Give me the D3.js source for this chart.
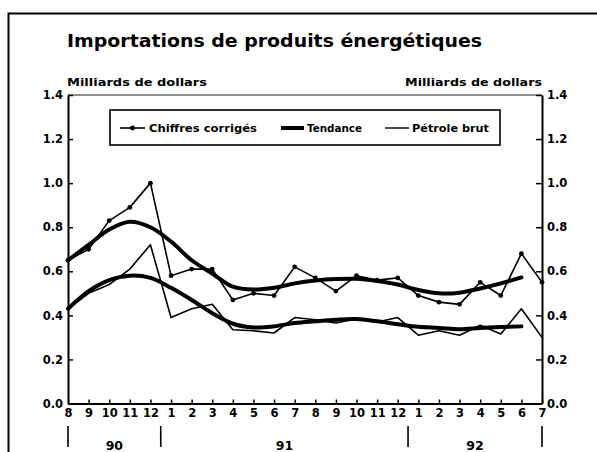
<!DOCTYPE html>
<html>
<head>
<meta charset="utf-8">
<script src="https://cdn.jsdelivr.net/npm/d3@7"></script>
<style>
  body { margin: 0; background: #fff; }
  svg { display: block; font-family: "DejaVu Sans", "Liberation Sans", Arial, sans-serif; font-weight: bold; }
</style>
</head>
<body>
<svg></svg>
<script>
// months Aug 1990 -> Jul 1992
let months = ['8','9','10','11','12','1','2','3','4','5','6','7','8','9','10','11','12','1','2','3','4','5','6','7']
let yearLabels = ['90','91','92']
let yearBreaks = [0, 4.5, 16.5, 23]   // month index where each year starts/ends
let yTicks = [0, 0.2, 0.4, 0.6, 0.8, 1.0, 1.2, 1.4]

let seriesNames = ['Chiffres corrigés', 'Tendance', 'Pétrole brut']

let chiffres = [0.65,0.70,0.83,0.89,1.00,0.58,0.61,0.61,0.47,0.50,0.49,0.62,0.57,0.51,0.58,0.56,0.57,0.49,0.46,0.45,0.55,0.49,0.68,0.55]
let tendance1 = [0.65,0.72,0.79,0.825,0.80,0.735,0.65,0.59,0.53,0.517,0.525,0.545,0.558,0.565,0.566,0.556,0.54,0.515,0.50,0.503,0.522,0.545,0.572]
let petrole = [0.43,0.50,0.54,0.61,0.72,0.39,0.43,0.45,0.335,0.33,0.32,0.39,0.38,0.365,0.385,0.37,0.39,0.31,0.33,0.31,0.355,0.315,0.43,0.30]
let tendance2 = [0.43,0.51,0.56,0.58,0.57,0.525,0.47,0.41,0.362,0.345,0.35,0.365,0.373,0.38,0.383,0.373,0.36,0.348,0.343,0.337,0.343,0.347,0.35]

let width = 597
let height = 452
let padLeft = 68, padRight = 542, padTop = 95, padBottom = 403.5

let svg = d3.select('svg').attr('width', width).attr('height', height)

let xScale = d3.scaleLinear().domain([0, months.length - 1]).range([padLeft, padRight])
let yScale = d3.scaleLinear().domain([0, 1.4]).range([padBottom, padTop])

// outer frame (left + top only, cropped elsewhere)
svg.append('path')
   .attr('d', 'M8.5,452V13.5H597')
   .attr('fill', 'none').attr('stroke', '#000').attr('stroke-width', 2)

// title and units
svg.append('text').text('Importations de produits énergétiques')
   .attr('x', 67).attr('y', 47).attr('font-size', 18)
   .attr('textLength', 415).attr('lengthAdjust', 'spacingAndGlyphs')
svg.append('text').text('Milliards de dollars')
   .attr('x', 67).attr('y', 86).attr('font-size', 11)
   .attr('textLength', 140).attr('lengthAdjust', 'spacingAndGlyphs')
svg.append('text').text('Milliards de dollars')
   .attr('x', 542).attr('y', 86).attr('font-size', 11).attr('text-anchor', 'end')
   .attr('textLength', 137).attr('lengthAdjust', 'spacingAndGlyphs')

// top border of plot
svg.append('line')
   .attr('x1', padLeft).attr('x2', padRight).attr('y1', padTop).attr('y2', padTop)
   .attr('stroke', '#222').attr('stroke-width', 1)

let fmt = d3.format('.1f')

let yLeft = d3.axisLeft(yScale).tickValues(yTicks).tickFormat(fmt)
              .tickSizeInner(-5).tickSizeOuter(0).tickPadding(5)
let yRight = d3.axisRight(yScale).tickValues(yTicks).tickFormat(fmt)
               .tickSizeInner(-6).tickSizeOuter(0).tickPadding(5)
let xAxis = d3.axisBottom(xScale).tickValues(d3.range(months.length))
              .tickFormat((d) => months[d])
              .tickSizeInner(-4).tickSizeOuter(0).tickPadding(5)

let styleAxis = (g) => {
  g.attr('font-family', null).attr('font-size', 11.5)
  g.select('.domain').attr('stroke-width', 2)
  g.selectAll('.tick line').attr('stroke-width', 1.5)
  g.selectAll('.tick text').attr('fill', '#000')
}

svg.append('g').attr('id', 'y-left')
   .attr('transform', 'translate(' + padLeft + ',0)')
   .call(yLeft).call(styleAxis)
svg.append('g').attr('id', 'y-right')
   .attr('transform', 'translate(' + padRight + ',0)')
   .call(yRight).call(styleAxis)
svg.append('g').attr('id', 'x-axis')
   .attr('transform', 'translate(0,' + padBottom + ')')
   .call(xAxis).call(styleAxis)

// year separators and labels
svg.selectAll('.year-sep')
   .data(yearBreaks)
   .enter()
   .append('line')
   .attr('class', 'year-sep')
   .attr('x1', (d) => xScale(d)).attr('x2', (d) => xScale(d))
   .attr('y1', 426).attr('y2', 447)
   .attr('stroke', '#000').attr('stroke-width', 1.6)

svg.selectAll('.year-label')
   .data(yearLabels)
   .enter()
   .append('text')
   .attr('class', 'year-label')
   .attr('x', (d, i) => (xScale(yearBreaks[i]) + xScale(yearBreaks[i + 1])) / 2)
   .attr('y', 450)
   .attr('font-size', 12.5)
   .attr('text-anchor', 'middle')
   .text((d) => d)

// lines
let thin = d3.line().x((d, i) => xScale(i)).y((d) => yScale(d))
let smooth = d3.line().x((d, i) => xScale(i)).y((d) => yScale(d)).curve(d3.curveCatmullRom)

svg.append('path').datum(petrole)
   .attr('d', thin).attr('fill', 'none').attr('stroke', '#000')
   .attr('stroke-width', 1.6).attr('stroke-linejoin', 'round')
svg.append('path').datum(chiffres)
   .attr('d', thin).attr('fill', 'none').attr('stroke', '#000')
   .attr('stroke-width', 1.6).attr('stroke-linejoin', 'round')
svg.selectAll('.dot')
   .data(chiffres)
   .enter()
   .append('circle')
   .attr('class', 'dot')
   .attr('cx', (d, i) => xScale(i)).attr('cy', (d) => yScale(d))
   .attr('r', 2.4).attr('fill', '#000')

;[tendance1, tendance2].forEach((s) => {
  svg.append('path').datum(s)
     .attr('d', smooth).attr('fill', 'none').attr('stroke', '#000')
     .attr('stroke-width', 4).attr('stroke-linecap', 'round')
})

// legend
let legend = svg.append('g').attr('id', 'legend')
legend.append('rect')
      .attr('x', 110).attr('y', 110).attr('width', 390).attr('height', 35)
      .attr('fill', '#fff').attr('stroke', '#000').attr('stroke-width', 1.6)

let legendItems = [
  { name: seriesNames[0], x1: 120, x2: 145, w: 1.6, dot: true, tx: 149, tl: 108 },
  { name: seriesNames[1], x1: 281, x2: 304, w: 4, dot: false, tx: 307, tl: 55 },
  { name: seriesNames[2], x1: 385, x2: 409, w: 1.4, dot: false, tx: 412, tl: 77 }
]
legendItems.forEach((it) => {
  legend.append('line')
        .attr('x1', it.x1).attr('x2', it.x2).attr('y1', 128).attr('y2', 128)
        .attr('stroke', '#000').attr('stroke-width', it.w)
  if (it.dot) {
    legend.append('circle').attr('cx', (it.x1 + it.x2) / 2).attr('cy', 128)
          .attr('r', 2.4).attr('fill', '#000')
  }
  legend.append('text').text(it.name)
        .attr('x', it.tx).attr('y', 132).attr('font-size', 10.5)
        .attr('textLength', it.tl).attr('lengthAdjust', 'spacingAndGlyphs')
})
</script>
</body>
</html>
